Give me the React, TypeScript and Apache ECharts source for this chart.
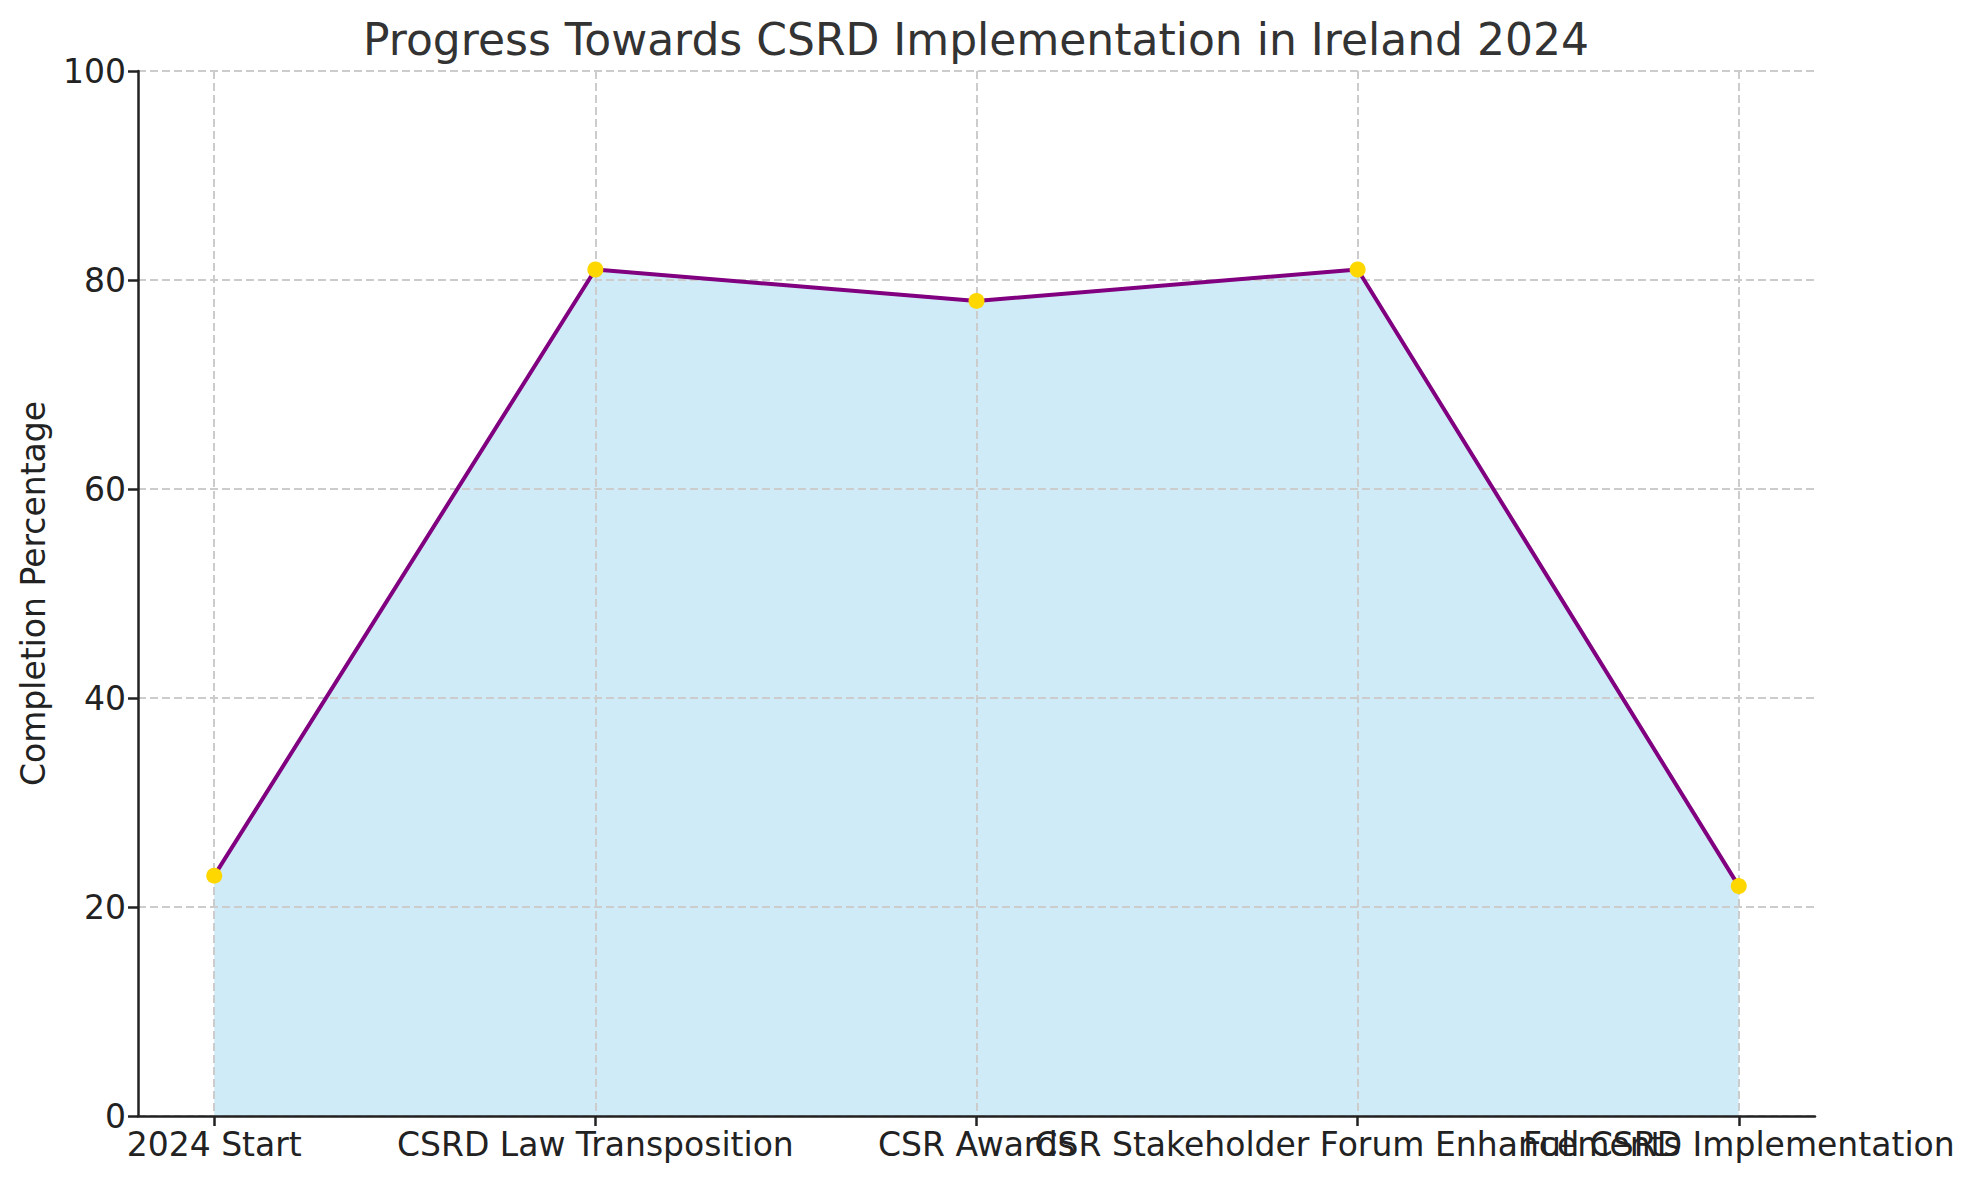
import React, { useEffect, useRef } from "react";
import * as echarts from "echarts";

const categories = [
  "2024 Start",
  "CSRD Law Transposition",
  "CSR Awards",
  "CSR Stakeholder Forum Enhancements",
  "Full CSRD Implementation",
];
const completion = [23, 81, 78, 81, 22];
const yTicks = [0, 20, 40, 60, 80, 100];
const titleText = "Progress Towards CSRD Implementation in Ireland 2024";
const yAxisName = "Completion Percentage";

const FONT = "DejaVu Sans";

export default function App() {
  const ref = useRef<HTMLDivElement>(null);
  useEffect(() => {
    document.body.style.margin = "0";
    if (!ref.current) return;
    const chart = echarts.init(ref.current, undefined, { renderer: "svg" });
    const points = categories.map((_, i) => [i, completion[i]]);
    const catIdx = categories.map((_, i) => i);
    const evenIdx = catIdx.filter((i) => i % 2 === 0);
    const oddIdx = catIdx.filter((i) => i % 2 === 1);
    const gridLine = { show: true, lineStyle: { color: "#cccccc", width: 2, type: [8, 4] } };
    const labelBase = {
      showMinLabel: true,
      showMaxLabel: true,
      hideOverlap: false,
      margin: 12,
      fontSize: 33,
      fontFamily: FONT,
      color: "#222222",
      formatter: (v: number) => categories[Math.round(v)] ?? "",
    };
    chart.setOption({
      animation: false,
      backgroundColor: "#ffffff",
      textStyle: { fontFamily: FONT },
      graphic: [
        {
          type: "text",
          x: 976,
          y: 39,
          style: {
            text: titleText,
            fontFamily: FONT,
            fontSize: 44,
            fill: "#333333",
            textAlign: "center",
            textVerticalAlign: "middle",
          },
        },
      ],
      grid: { left: 138, right: 159, top: 71, bottom: 64, containLabel: false },
      xAxis: [
        {
          type: "value",
          min: -0.2,
          max: 4.2,
          z: 2,
          position: "bottom",
          axisLine: { show: true, onZero: true, lineStyle: { color: "#222222", width: 2.5 } },
          axisTick: { show: true, length: 10, customValues: catIdx, lineStyle: { color: "#222222", width: 2.5 } },
          axisLabel: { ...labelBase, customValues: evenIdx },
          splitLine: gridLine,
        },
        {
          type: "value",
          min: -0.2,
          max: 4.2,
          z: 2,
          position: "bottom",
          axisLine: { show: false, onZero: true },
          axisTick: { show: false, customValues: oddIdx },
          axisLabel: { ...labelBase, customValues: oddIdx },
          splitLine: { show: false },
        },
      ],
      yAxis: {
        type: "value",
        min: yTicks[0],
        max: yTicks[yTicks.length - 1],
        interval: 20,
        z: 2,
        name: yAxisName,
        nameLocation: "middle",
        nameGap: 88,
        nameTextStyle: { fontSize: 33, fontFamily: FONT, color: "#222222" },
        axisLine: { show: true, onZero: false, lineStyle: { color: "#222222", width: 2.5 } },
        axisTick: { show: true, length: 10, lineStyle: { color: "#222222", width: 2.5 } },
        axisLabel: { margin: 12, fontSize: 33, fontFamily: FONT, color: "#222222" },
        splitLine: gridLine,
      },
      series: [
        {
          type: "line",
          xAxisIndex: 0,
          data: points,
          z: 1,
          symbol: "none",
          lineStyle: { width: 0, opacity: 0 },
          areaStyle: { color: "rgba(135,206,235,0.4)", opacity: 1, origin: "start" },
          silent: true,
        },
        {
          type: "line",
          xAxisIndex: 0,
          data: points,
          z: 3,
          symbol: "circle",
          symbolSize: 16,
          lineStyle: { color: "#800080", width: 4 },
          itemStyle: { color: "#FFD700", borderWidth: 0 },
        },
      ],
    });
    return () => chart.dispose();
  }, []);
  return <div ref={ref} style={{ width: 1974, height: 1180 }} />;
}
